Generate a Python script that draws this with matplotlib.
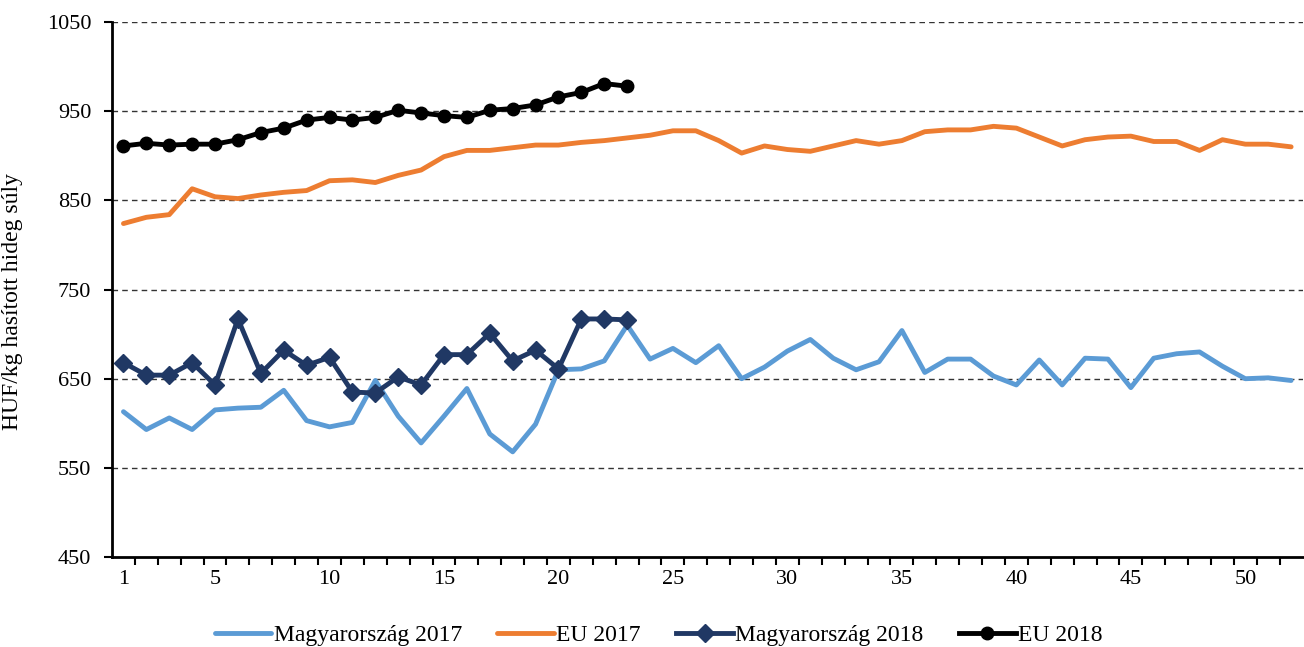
import matplotlib
matplotlib.use('Agg')
import matplotlib.pyplot as plt
import numpy as np

plt.rcParams['font.family'] = ['Liberation Serif', 'DejaVu Serif']

weeks_2017 = list(range(1, 53))
weeks_2018 = list(range(1, 24))

hu_2017 = [613, 593, 606, 593, 615, 617, 618, 637, 603, 596, 601, 648, 608, 578, 608,
           639, 588, 568, 599, 660, 661, 670, 710, 672, 684, 668, 687, 650, 663, 681,
           694, 673, 660, 669, 704, 657, 672, 672, 653, 643, 671, 643, 673, 672, 640,
           673, 678, 680, 664, 650, 651, 648]
eu_2017 = [824, 831, 834, 863, 854, 852, 856, 859, 861, 872, 873, 870, 878, 884, 899,
           906, 906, 909, 912, 912, 915, 917, 920, 923, 928, 928, 917, 903, 911, 907,
           905, 911, 917, 913, 917, 927, 929, 929, 933, 931, 921, 911, 918, 921, 922,
           916, 916, 906, 918, 913, 913, 910]
hu_2018 = [668, 654, 654, 668, 643, 717, 656, 682, 665, 674, 635, 634, 652, 643, 677,
           677, 701, 670, 682, 661, 717, 717, 716]
eu_2018 = [911, 914, 912, 913, 913, 918, 926, 931, 940, 943, 940, 943, 951, 948, 945,
           943, 951, 953, 957, 966, 971, 981, 978]

x_labels = [1, 5, 10, 15, 20, 25, 30, 35, 40, 45, 50]
y_ticks = [450, 550, 650, 750, 850, 950, 1050]


def main():
    fig = plt.figure(figsize=(13.04, 6.47), dpi=100)
    ax = fig.add_axes([0.0859, 0.139, 0.913, 0.827])

    ax.plot(weeks_2017, hu_2017, color='#5B9BD5', lw=3.5, label='Magyarország 2017',
            solid_capstyle='round', zorder=3)
    ax.plot(weeks_2017, eu_2017, color='#ED7D31', lw=3.5, label='EU 2017',
            solid_capstyle='round', zorder=3)
    ax.plot(weeks_2018, hu_2018, color='#203864', lw=3.5, marker='D', markersize=9,
            label='Magyarország 2018', zorder=4)
    ax.plot(weeks_2018, eu_2018, color='black', lw=3.5, marker='o', markersize=9,
            label='EU 2018', zorder=5)

    ax.set_xlim(0.5, 52.5)
    ax.set_ylim(450, 1050)
    ax.set_yticks(y_ticks)
    ax.set_xticks(x_labels)
    ax.set_xticks(np.arange(1.5, 52, 1), minor=True)
    ax.tick_params(axis='x', which='major', length=0, pad=9, labelsize=16)
    ax.tick_params(axis='x', which='minor', length=6, width=1.5, direction='out')
    ax.tick_params(axis='y', length=6, width=1.5, direction='out', labelsize=16, pad=9)

    for v in y_ticks[1:]:
        ax.axhline(v, color='#333333', lw=1, ls=(0, (4, 3)), zorder=1)

    for s in ['top', 'right']:
        ax.spines[s].set_visible(False)
    ax.spines['left'].set_linewidth(2)
    ax.spines['bottom'].set_linewidth(2)

    ax.set_ylabel('HUF/kg hasított hideg súly', fontsize=17)
    ax.yaxis.set_label_coords(-0.075, 0.477)

    fig.legend(loc='center', bbox_to_anchor=(0.505, 0.018), ncol=4, frameon=False,
               fontsize=17, handlelength=2.4, handletextpad=0.1, columnspacing=1.5)

    fig.savefig('out.png', dpi=100)


if __name__ == '__main__':
    main()
